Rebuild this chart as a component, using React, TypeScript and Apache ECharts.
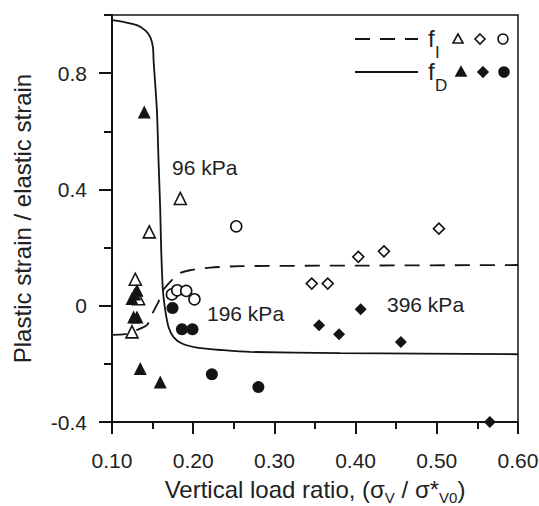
import React, { useEffect, useRef } from "react";
import * as echarts from "echarts";

// Model curves
const fdCurve: [number, number][] = [
  [0.1, 0.982], [0.1143, 0.976], [0.1307, 0.965], [0.141, 0.947], [0.1471, 0.924],
  [0.1504, 0.89], [0.1512, 0.844], [0.1553, 0.672], [0.1573, 0.5], [0.1594, 0.33],
  [0.1606, 0.19], [0.1627, 0.053], [0.1656, -0.016], [0.1696, -0.073], [0.1758, -0.108],
  [0.1861, -0.13], [0.2045, -0.144], [0.2373, -0.153], [0.27, -0.159], [0.381, -0.163],
  [0.6, -0.167],
];
const fiCurve: [number, number][] = [
  [0.1, -0.1], [0.116, -0.098], [0.131, -0.083], [0.143, -0.067], [0.15, -0.025],
  [0.157, 0.012], [0.163, 0.053], [0.172, 0.083], [0.182, 0.11], [0.196, 0.122],
  [0.221, 0.131], [0.258, 0.136], [0.4, 0.138], [0.6, 0.14],
];

// Measured points (96 kPa triangles, 196 kPa circles, 396 kPa diamonds)
const fiTriangles: [number, number][] = [
  [0.1287, 0.091], [0.1327, 0.024], [0.1246, -0.09], [0.1459, 0.254], [0.1841, 0.369],
];
const fdTriangles: [number, number][] = [
  [0.1397, 0.666], [0.1308, 0.053], [0.128, 0.04], [0.1246, 0.0245], [0.1266, -0.039],
  [0.1308, -0.039], [0.1348, -0.216], [0.1594, -0.262],
];
const fiCircles: [number, number][] = [
  [0.253, 0.273], [0.1738, 0.039], [0.1803, 0.053], [0.1914, 0.051], [0.2015, 0.022],
];
const fdCircles: [number, number][] = [
  [0.1745, -0.008], [0.1861, -0.081], [0.1991, -0.081], [0.223, -0.236], [0.2803, -0.28],
];
const fiDiamonds: [number, number][] = [
  [0.346, 0.076], [0.3657, 0.076], [0.4033, 0.168], [0.4349, 0.187], [0.5026, 0.265],
];
const fdDiamonds: [number, number][] = [
  [0.355, -0.067], [0.3796, -0.098], [0.4063, -0.012], [0.4558, -0.125], [0.5653, -0.4],
];

const pressureLabels = ["96 kPa", "196 kPa", "396 kPa"];

const FONT = "'Liberation Sans', Arial, Helvetica, sans-serif";
const INK = "#141414";
const TXT = "#222";

export default function App() {
  const ref = useRef<HTMLDivElement>(null);
  useEffect(() => {
    if (!ref.current) return;
    const chart = echarts.init(ref.current, undefined, { renderer: "svg" });
    const gridTop = 15;
    const gridBottom = 84;
    const plotH = 506 - gridTop - gridBottom;
    const top1 = gridTop + (0.2 / 1.4) * plotH;

    const open = (sym: string, size: number, data: [number, number][]) => ({
      type: "scatter",
      symbol: sym,
      symbolSize: size,
      data,
      clip: false,
      z: 5,
      itemStyle: { color: "#fff", borderColor: INK, borderWidth: 1.6, opacity: 1 },
    });
    const filled = (sym: string, size: number, data: [number, number][]) => ({
      type: "scatter",
      symbol: sym,
      symbolSize: size,
      data,
      clip: false,
      z: 6,
      itemStyle: { color: INK, opacity: 1 },
    });

    const legendRow = (y: number, dashed: boolean, sub: string, filledMarks: boolean) => {
      const fill = filledMarks ? INK : "#fff";
      const dx = filledMarks ? 3 : 0;
      return [
        {
          type: "line",
          shape: { x1: 355, y1: y, x2: 418, y2: y },
          style: { stroke: INK, lineWidth: 1.8, lineDash: dashed ? [15, 10] : null },
        },
        {
          type: "text",
          x: 428,
          y: y - 1,
          style: { text: "f", font: `24px ${FONT}`, fill: TXT, verticalAlign: "middle" },
        },
        {
          type: "text",
          x: 435,
          y: y + 13,
          style: { text: sub, font: `17px ${FONT}`, fill: TXT, verticalAlign: "middle" },
        },
        {
          type: "polygon",
          shape: {
            points: [
              [458 + dx, y - 5],
              [453 + dx, y + 4],
              [463 + dx, y + 4],
            ],
          },
          style: { fill, stroke: INK, lineWidth: 1.6 },
        },
        {
          type: "polygon",
          shape: {
            points: [
              [480 + dx, y - 5],
              [485 + dx, y],
              [480 + dx, y + 5],
              [475 + dx, y],
            ],
          },
          style: { fill, stroke: INK, lineWidth: 1.6 },
        },
        {
          type: "circle",
          shape: { cx: 503 + (filledMarks ? 1 : 0), cy: y, r: 5 },
          style: { fill, stroke: INK, lineWidth: 1.6 },
        },
      ];
    };

    chart.setOption({
      animation: false,
      backgroundColor: "#fff",
      textStyle: { fontFamily: FONT },
      grid: [
        {
          left: 112, right: 21, top: gridTop, bottom: gridBottom,
          show: true, borderColor: INK, borderWidth: 1.5, backgroundColor: "transparent",
          containLabel: false, outerBoundsMode: "none",
        },
        {
          left: 112, right: 21, top: top1, bottom: gridBottom, show: false,
          containLabel: false, outerBoundsMode: "none",
        },
      ],
      xAxis: [
        {
          gridIndex: 0,
          type: "value",
          min: 0.1,
          max: 0.6,
          interval: 0.1,
          splitLine: { show: false },
          axisLine: { show: true, onZero: false, lineStyle: { color: INK, width: 2 } },
          axisTick: { show: true, inside: false, length: 12, lineStyle: { color: INK, width: 2 } },
          minorTick: { show: true, splitNumber: 2, length: 7, lineStyle: { color: INK, width: 2 } },
          axisLabel: {
            formatter: (v: number) => v.toFixed(2),
            fontSize: 21,
            color: TXT,
            margin: 28,
            fontFamily: FONT,
            hideOverlap: false,
          },
          name: "{a|Vertical load ratio, (σ}{s|V}{a| / σ*}{s|V0}{a|)}",
          nameLocation: "middle",
          nameGap: 55,
          nameTextStyle: {
            rich: {
              a: { fontSize: 24, lineHeight: 28, verticalAlign: "top", color: TXT, fontFamily: FONT },
              s: { fontSize: 15, lineHeight: 15, verticalAlign: "bottom", color: TXT, fontFamily: FONT },
            },
          },
        },
        { gridIndex: 1, type: "value", min: 0.1, max: 0.6, show: false },
      ],
      yAxis: [
        {
          gridIndex: 0,
          type: "value",
          min: -0.4,
          max: 1.0,
          interval: 0.2,
          splitLine: { show: false },
          axisLine: { show: true, onZero: false, lineStyle: { color: INK, width: 2 } },
          axisTick: { show: true, inside: false, length: 8, lineStyle: { color: INK, width: 2 } },
          axisLabel: { show: false },
          name: "Plastic strain / elastic strain",
          nameLocation: "middle",
          nameGap: 78,
          nameTextStyle: { fontSize: 24, color: TXT, fontFamily: FONT },
        },
        {
          gridIndex: 1,
          type: "value",
          min: -0.4,
          max: 0.8,
          interval: 0.4,
          splitLine: { show: false },
          axisLine: { show: false },
          axisTick: { show: true, inside: false, length: 13, lineStyle: { color: INK, width: 2 } },
          axisLabel: {
            formatter: (v: number) => (Math.abs(v) < 1e-9 ? "0" : v.toFixed(1)),
            fontSize: 21,
            color: TXT,
            margin: 25,
            fontFamily: FONT,
            hideOverlap: false,
          },
        },
      ],
      series: [
        {
          type: "line",
          data: fdCurve,
          symbol: "none",
          smooth: 0.25,
          lineStyle: { color: INK, width: 1.8 },
          z: 3,
        },
        {
          type: "line",
          data: fiCurve,
          symbol: "none",
          smooth: 0.25,
          lineStyle: { color: INK, width: 1.8, type: [15, 10] },
          z: 3,
        },
        open("triangle", 12, fiTriangles),
        filled("triangle", 13, fdTriangles),
        open("circle", 11, fiCircles),
        filled("circle", 12, fdCircles),
        open("diamond", 11, fiDiamonds),
        filled("diamond", 12, fdDiamonds),
      ],
      graphic: [
        ...legendRow(39, true, "I", false),
        ...legendRow(72, false, "D", true),
        { type: "text", x: 172, y: 167, style: { text: pressureLabels[0], font: `21px ${FONT}`, fill: TXT, verticalAlign: "middle" } },
        { type: "text", x: 207, y: 313, style: { text: pressureLabels[1], font: `21px ${FONT}`, fill: TXT, verticalAlign: "middle" } },
        { type: "text", x: 387, y: 304, style: { text: pressureLabels[2], font: `21px ${FONT}`, fill: TXT, verticalAlign: "middle" } },
      ],
    });
    return () => chart.dispose();
  }, []);
  return (
    <div
      ref={ref}
      style={{ position: "fixed", left: 0, top: 0, width: 539, height: 506, background: "#fff" }}
    />
  );
}
